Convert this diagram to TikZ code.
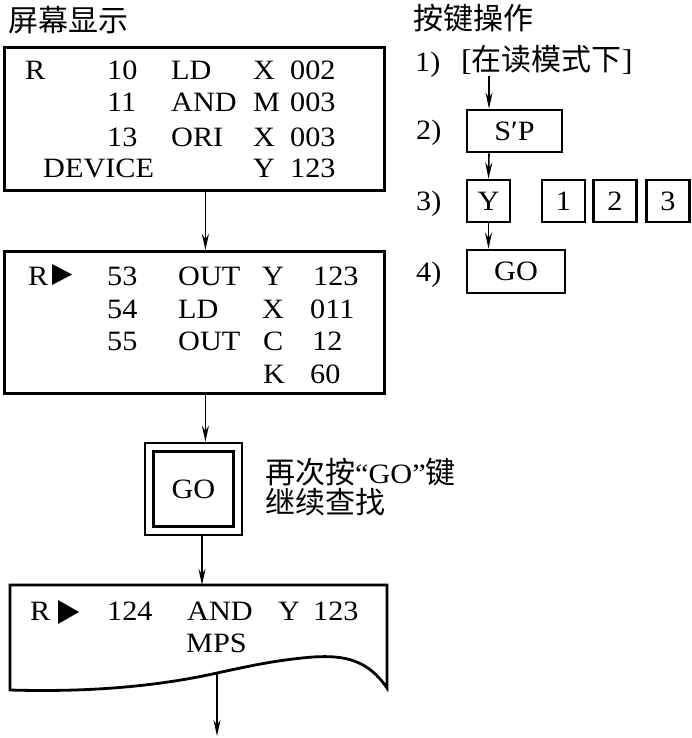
\documentclass[tikz,border=0pt]{standalone}
\usepackage{fontspec}
\setmainfont[FakeStretch=1.08]{Liberation Serif}
\newfontfamily\cjk{Noto Sans CJK SC}
\usetikzlibrary{arrows.meta}
\begin{document}
\begin{tikzpicture}[x=1pt,y=-1pt,
  box/.style={draw, line width=2.8pt, inner sep=0pt, font=\fontsize{28}{28}\selectfont},
  arr/.style={line width=1.6pt, -{Stealth[length=16pt,width=7pt]}},
  t/.style={anchor=base west, inner sep=0pt, font=\fontsize{28}{28}\selectfont},
  c/.style={anchor=west, inner sep=0pt, font=\fontsize{30}{30}\selectfont\cjk},
  tri/.style={fill=black}]
\useasboundingbox (0,0) rectangle (691,738);

% titles
\node[c] (h1) at (8,20) {屏幕显示};
\node[c] (h2) at (413,18) {按键操作};

% box 1
\node[box, minimum width=380pt, minimum height=143pt, anchor=north west] (b1) at (3,46) {};
\node[t] (r1a) at (25,80) {R};
\node[t] (r1b) at (107,80) {10};
\node[t] (r1c) at (171,80) {LD};
\node[t] (r1d) at (253,80) {X};
\node[t] (r1e) at (290,80) {002};
\node[t] (r2b) at (107,112) {11};
\node[t] (r2c) at (171,112) {AND};
\node[t] (r2d) at (253,112) {M};
\node[t] (r2e) at (290,112) {003};
\node[t] (r3b) at (107,147) {13};
\node[t] (r3c) at (171,147) {ORI};
\node[t] (r3d) at (253,147) {X};
\node[t] (r3e) at (290,147) {003};
\node[t] (r4a) at (43,178) {DEVICE};
\node[t] (r4d) at (253,178) {Y};
\node[t] (r4e) at (290,178) {123};

% box 2
\node[box, minimum width=380pt, minimum height=142pt, anchor=north west] (b2) at (3,250) {};
\node[t] (s1a) at (28,285) {R};
\fill[tri] (52,264) -- (72,274.5) -- (52,285) -- cycle;
\node[t] (s1b) at (107,285) {53};
\node[t] (s1c) at (178,285) {OUT};
\node[t] (s1d) at (262,285) {Y};
\node[t] (s1e) at (313,285) {123};
\node[t] (s2b) at (107,318) {54};
\node[t] (s2c) at (178,318) {LD};
\node[t] (s2d) at (262,318) {X};
\node[t] (s2e) at (310,318) {011};
\node[t] (s3b) at (107,350) {55};
\node[t] (s3c) at (178,350) {OUT};
\node[t] (s3d) at (263,350) {C};
\node[t] (s3e) at (312,350) {12};
\node[t] (s4d) at (263,383) {K};
\node[t] (s4e) at (310,383) {60};

% GO double box
\node[box, minimum width=97pt, minimum height=92pt] (g) at (193.5,489) {};
\node[box, minimum width=80pt, minimum height=75pt] (gi) at (193.5,489) {GO};
\node[c] (n1) at (265,472) {再次按{\rmfamily\fontsize{28}{28}\selectfont``GO''}键};
\node[c] (n2) at (265,502) {继续查找};

% bottom box with wavy edge
\coordinate (w) at (217,673);
\coordinate (end) at (217,736);
\draw[line width=2.8pt, line join=miter] (10,690) -- (10,585) -- (387,585) -- (387,688)
  .. controls (368,660) and (345,655) .. (313,657)
  .. controls (275,660) and (245,667) .. (w)
  .. controls (150,688) and (80,692) .. cycle;
\coordinate (b4top) at (202,585);
\node[t] (u1a) at (30,620) {R};
\fill[tri] (58,600) -- (79,612) -- (58,624) -- cycle;
\node[t] (u1b) at (107,620) {124};
\node[t] (u1c) at (187,620) {AND};
\node[t] (u1d) at (278,620) {Y};
\node[t] (u1e) at (313,620) {123};
\node[t] (u2c) at (186,652) {MPS};

% left connectors
\draw[arr] ([xshift=11pt]b1.south) -- ([xshift=11pt]b2.north);
\draw[arr] ([xshift=11pt]b2.south) -- ([xshift=11.9pt]g.north);
\draw[arr] ([xshift=8.5pt]g.south) -- (b4top);
\draw[arr] (w) -- (end);

% right side key operations
\node[t] (k1) at (415,72) {1)};
\node[anchor=west, inner sep=0pt, font=\fontsize{30}{30}\selectfont] (k1t) at (461,60) {[{\cjk 在读模式下}]};
\coordinate (k1a) at (489,76);
\node[t] (k2) at (416,140) {2)};
\node[box, minimum width=95pt, minimum height=42pt] (sp) at (514.5,131) {S′P};
\node[t] (k3) at (416,210) {3)};
\node[box, minimum width=43pt, minimum height=42pt] (ky) at (488.5,201) {Y};
\node[box, minimum width=43pt, minimum height=42pt] (kn1) at (563.5,201) {1};
\node[box, minimum width=43pt, minimum height=42pt] (kn2) at (615,201) {2};
\node[box, minimum width=43pt, minimum height=42pt] (kn3) at (668,201) {3};
\node[t] (k4) at (416,281) {4)};
\node[box, minimum width=98pt, minimum height=43pt] (kgo) at (516,271.5) {GO};

\draw[arr] (k1a) -- ([xshift=-25.5pt]sp.north);
\draw[arr] ([xshift=-25.5pt]sp.south) -- (ky.north);
\draw[arr] (ky.south) -- ([xshift=-27.5pt]kgo.north);
\end{tikzpicture}
\end{document}
